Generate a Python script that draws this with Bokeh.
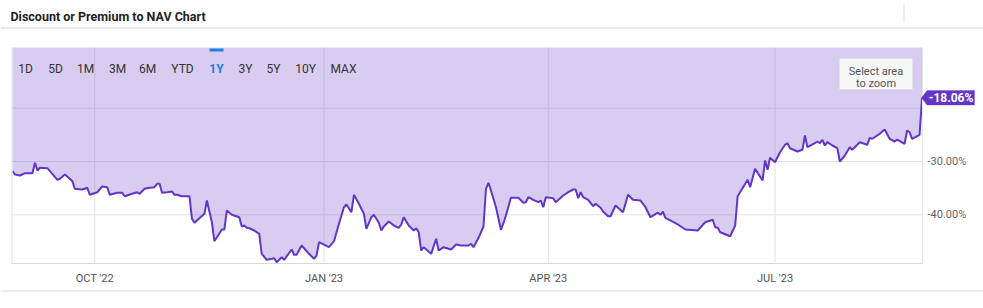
import pandas as pd
from bokeh.plotting import figure
from bokeh.models import (Label, BoxAnnotation, PolyAnnotation, FixedTicker,
                          DatetimeAxis, LinearAxis, CustomJSTickFormatter, Range1d,
                          ColumnDataSource)
from bokeh.embed import file_html
from bokeh.resources import INLINE

# ---------------- data ----------------
dates = [
    "2022-08-29", "2022-08-30", "2022-09-01", "2022-09-03", "2022-09-06", "2022-09-07", "2022-09-08", "2022-09-09", "2022-09-12", "2022-09-16",
    "2022-09-17", "2022-09-19", "2022-09-21", "2022-09-22", "2022-09-23", "2022-09-26", "2022-09-28", "2022-09-29", "2022-10-02", "2022-10-04",
    "2022-10-06", "2022-10-07", "2022-10-10", "2022-10-12", "2022-10-13", "2022-10-16", "2022-10-18", "2022-10-19", "2022-10-21", "2022-10-23",
    "2022-10-25", "2022-10-26", "2022-10-27", "2022-10-28", "2022-10-30", "2022-11-01", "2022-11-02", "2022-11-03", "2022-11-05", "2022-11-08",
    "2022-11-09", "2022-11-10", "2022-11-14", "2022-11-15", "2022-11-17", "2022-11-18", "2022-11-21", "2022-11-22", "2022-11-23", "2022-11-25",
    "2022-11-28", "2022-11-29", "2022-11-30", "2022-12-01", "2022-12-02", "2022-12-04", "2022-12-06", "2022-12-07", "2022-12-09", "2022-12-11",
    "2022-12-12", "2022-12-13", "2022-12-15", "2022-12-16", "2022-12-19", "2022-12-20", "2022-12-21", "2022-12-23", "2022-12-26", "2022-12-28",
    "2022-12-29", "2022-12-30", "2023-01-03", "2023-01-05", "2023-01-07", "2023-01-09", "2023-01-10", "2023-01-12", "2023-01-13", "2023-01-15",
    "2023-01-17", "2023-01-18", "2023-01-20", "2023-01-21", "2023-01-22", "2023-01-23", "2023-01-24", "2023-01-25", "2023-01-27", "2023-01-29",
    "2023-01-31", "2023-02-01", "2023-02-02", "2023-02-04", "2023-02-06", "2023-02-07", "2023-02-08", "2023-02-09", "2023-02-10", "2023-02-13",
    "2023-02-15", "2023-02-16", "2023-02-18", "2023-02-21", "2023-02-23", "2023-02-25", "2023-02-28", "2023-03-01", "2023-03-02", "2023-03-04",
    "2023-03-06", "2023-03-07", "2023-03-08", "2023-03-09", "2023-03-11", "2023-03-13", "2023-03-14", "2023-03-15", "2023-03-17", "2023-03-20",
    "2023-03-22", "2023-03-23", "2023-03-24", "2023-03-26", "2023-03-28", "2023-03-29", "2023-03-30", "2023-03-31", "2023-04-03", "2023-04-04",
    "2023-04-07", "2023-04-09", "2023-04-11", "2023-04-12", "2023-04-13", "2023-04-14", "2023-04-15", "2023-04-17", "2023-04-19", "2023-04-20",
    "2023-04-22", "2023-04-23", "2023-04-25", "2023-04-26", "2023-04-28", "2023-05-01", "2023-05-03", "2023-05-05", "2023-05-08", "2023-05-10",
    "2023-05-12", "2023-05-15", "2023-05-16", "2023-05-17", "2023-05-18", "2023-05-23", "2023-05-26", "2023-05-31", "2023-06-02", "2023-06-03",
    "2023-06-06", "2023-06-07", "2023-06-08", "2023-06-09", "2023-06-13", "2023-06-15", "2023-06-16", "2023-06-20", "2023-06-21", "2023-06-23",
    "2023-06-26", "2023-06-27", "2023-06-28", "2023-06-29", "2023-07-01", "2023-07-03", "2023-07-05", "2023-07-06", "2023-07-07", "2023-07-10",
    "2023-07-12", "2023-07-13", "2023-07-14", "2023-07-17", "2023-07-18", "2023-07-19", "2023-07-20", "2023-07-21", "2023-07-22", "2023-07-24",
    "2023-07-26", "2023-07-27", "2023-07-29", "2023-07-31", "2023-08-01", "2023-08-03", "2023-08-04", "2023-08-07", "2023-08-08", "2023-08-09",
    "2023-08-12", "2023-08-14", "2023-08-16", "2023-08-18", "2023-08-19", "2023-08-22", "2023-08-23", "2023-08-24", "2023-08-25", "2023-08-28",
    "2023-08-29",
]

discount_pct = [
    -31.82, -32.44, -32.63, -32.19, -32.19, -30.24, -31.69, -31.18, -31.26, -33.43,
    -33.24, -32.44, -33.24, -33.69, -35.12, -35.25, -34.93, -36.24, -35.76, -34.69,
    -34.82, -36.24, -35.87, -35.87, -36.51, -36.06, -35.76, -36.06, -35.12, -34.93,
    -34.82, -34.18, -34.18, -35.87, -35.76, -35.62, -36.24, -36.24, -36.51, -36.51,
    -40.74, -41.49, -39.81, -37.31, -41.38, -44.94, -42.75, -42.75, -39.19, -39.99,
    -40.44, -42.19, -42.00, -42.43, -42.51, -42.94, -43.56, -47.31, -48.43, -48.24,
    -48.13, -48.88, -47.94, -48.43, -46.50, -47.49, -47.49, -45.75, -47.31, -48.24,
    -47.63, -45.13, -46.07, -44.94, -41.68, -38.57, -38.06, -39.51, -36.24, -37.93,
    -39.81, -42.62, -40.44, -39.99, -40.74, -41.49, -42.94, -42.19, -41.25, -42.00,
    -42.43, -41.81, -40.44, -42.00, -42.94, -42.51, -43.26, -46.69, -46.07, -47.31,
    -44.49, -46.69, -46.07, -46.50, -45.56, -45.75, -45.75, -45.43, -46.07, -44.31,
    -42.19, -35.12, -33.99, -35.44, -38.57, -42.81, -41.57, -40.13, -36.81, -36.81,
    -37.74, -37.63, -36.69, -37.18, -37.63, -37.31, -38.57, -36.69, -36.88, -37.63,
    -36.38, -35.76, -35.25, -35.25, -36.88, -35.76, -36.69, -37.18, -38.38, -37.93,
    -38.68, -39.38, -40.26, -40.26, -38.25, -39.51, -36.24, -37.18, -37.31, -38.57,
    -40.44, -39.60, -39.99, -39.38, -40.56, -41.81, -42.75, -42.94, -41.87, -41.38,
    -40.93, -42.32, -42.43, -43.26, -44.01, -42.00, -36.51, -33.43, -34.82, -31.37,
    -33.56, -29.81, -31.56, -29.31, -30.13, -28.26, -26.87, -26.57, -27.51, -28.13,
    -27.81, -25.13, -27.32, -26.57, -26.25, -26.57, -25.93, -27.00, -26.38, -27.00,
    -27.51, -30.00, -28.88, -27.32, -27.81, -26.87, -26.38, -26.87, -25.56, -25.74,
    -24.81, -24.00, -25.74, -26.25, -25.88, -26.68, -24.19, -24.51, -25.74, -25.00,
    -18.06,
]

x_tick_dates = ["2022-10-01", "2023-01-01", "2023-04-01", "2023-07-01"]
y_ticks = [-40, -30, -20]
range_buttons = ["1D", "5D", "1M", "3M", "6M", "YTD", "1Y", "3Y", "5Y", "10Y", "MAX"]
selected_button = "1Y"
title_text = "Discount or Premium to NAV Chart"

# ---------------- layout constants ----------------
W, H = 983, 308
PL, PR, PT, PB = 11, 922, 47, 263        # plot-area edges in canvas pixels
FONT = "Roboto"
LINE = "#6236c8"
BLUE = "#1f80e0"
GRID = "#e3e3e3"

# the plot area spans 2022-08-28 14:00 .. +365.6 days and -49.125% .. -8.625%
X0 = pd.Timestamp("2022-08-28 14:00")
DAYS = 365.6
Y_LO, Y_HI = -49.125, -8.625
px_per_day = (PR - PL) / DAYS
px_per_pct = (PB - PT) / (Y_HI - Y_LO)

def xd(px):
    return X0 + pd.Timedelta(days=(px - PL) / px_per_day)

def yd(py):
    return Y_HI - (py - PT) / px_per_pct

def ms(ts):
    return ts.value / 1e6

def sy(py):  # canvas y -> screen units measured up from the bottom
    return H - py

x = pd.to_datetime(dates)
src = ColumnDataSource(dict(x=x, y=discount_pct))

p = figure(width=W, height=H, x_range=Range1d(xd(0), xd(W)), y_range=Range1d(yd(H), yd(0)),
           x_axis_type="datetime", x_axis_location=None, y_axis_location=None,
           output_backend="svg", toolbar_location=None, min_border=0)
p.title.visible = False
p.outline_line_color = None
p.background_fill_color = "white"
p.border_fill_color = "white"
p.xgrid.visible = False
p.ygrid.visible = False

tick_dt = pd.to_datetime(x_tick_dates)
tick_ms = [ms(t) for t in tick_dt]
plot_x0, plot_x1 = xd(PL), xd(PR)

# grid lines, limited to the plot area (drawn first, under the shading)
n_x, n_y = len(tick_dt), len(y_ticks)
p.segment(x0=tick_dt, y0=[Y_LO] * n_x, x1=tick_dt, y1=[Y_HI] * n_x,
          line_color=GRID, line_width=1)
p.segment(x0=[plot_x0] * n_y, y0=y_ticks, x1=[plot_x1] * n_y, y1=y_ticks,
          line_color=GRID, line_width=1)

# x axis along the bottom of the plot area
xaxis = DatetimeAxis(fixed_location=Y_LO, bounds=(ms(plot_x0), ms(plot_x1)),
                     ticker=FixedTicker(ticks=tick_ms),
                     formatter=CustomJSTickFormatter(code="""
const d = new Date(tick);
const m = ["JAN","FEB","MAR","APR","MAY","JUN","JUL","AUG","SEP","OCT","NOV","DEC"][d.getUTCMonth()];
return m + " '" + String(d.getUTCFullYear()).slice(2);
"""))
xaxis.axis_line_color = "#d8d8d8"
xaxis.major_tick_line_color = None
xaxis.minor_tick_line_color = None
xaxis.major_tick_out = 0
xaxis.major_tick_in = 0
xaxis.minor_tick_out = 0
xaxis.major_label_text_font = FONT
xaxis.major_label_text_font_size = "11px"
xaxis.major_label_text_color = "#555555"
xaxis.major_label_standoff = 8
p.add_layout(xaxis, "below")

# y axis on the right edge of the plot area
yaxis = LinearAxis(fixed_location=ms(plot_x1), bounds=(Y_LO, Y_HI),
                   ticker=FixedTicker(ticks=y_ticks),
                   formatter=CustomJSTickFormatter(args=dict(hidden=-20), code="""
return tick == hidden ? "" : tick.toFixed(2) + "%";
"""))
yaxis.axis_line_color = GRID
yaxis.major_tick_line_color = None
yaxis.minor_tick_line_color = None
yaxis.major_tick_out = 0
yaxis.major_tick_in = 0
yaxis.minor_tick_out = 0
yaxis.major_label_text_font = FONT
yaxis.major_label_text_font_size = "11px"
yaxis.major_label_text_color = "#666666"
yaxis.major_label_standoff = 5
p.add_layout(yaxis, "right")

# left border of the plot area
p.add_layout(BoxAnnotation(left=PL, right=PL + 1, top=sy(PT), bottom=sy(PB),
                           left_units="screen", right_units="screen",
                           top_units="screen", bottom_units="screen",
                           fill_color=GRID, fill_alpha=1, line_color=None))

# series: shaded band above the line, then the line
p.varea(x="x", y1="y", y2=Y_HI, source=src, fill_color=LINE, fill_alpha=0.25)
p.line(x="x", y="y", source=src, line_color=LINE, line_width=2)

# header: title and rules
p.add_layout(Label(x=10, y=sy(16), x_units="screen", y_units="screen",
                   text=title_text, text_font=FONT, text_font_size="12.5px",
                   text_font_style="bold", text_color="#222222",
                   text_align="left", text_baseline="alphabetic"))

def hbar(x1, x2, y1, y2, color):
    p.add_layout(BoxAnnotation(left=x1, right=x2, top=sy(y1), bottom=sy(y2),
                               left_units="screen", right_units="screen",
                               top_units="screen", bottom_units="screen",
                               fill_color=color, fill_alpha=1, line_color=None))

hbar(0, W, 27, 28, "#d4d4d4")
hbar(903, 904, 3, 22, "#e0e0e0")
hbar(0, W, 290, 291, "#dcdcdc")

# range selector buttons
btn_centers = [25, 55, 85, 117, 147, 182, 216, 245, 273, 305, 343]
for name, cx in zip(range_buttons, btn_centers):
    sel = name == selected_button
    p.add_layout(Label(x=cx, y=sy(68), x_units="screen", y_units="screen",
                       text=name, text_font=FONT, text_font_size="12px",
                       text_font_style="bold" if sel else "normal",
                       text_color=BLUE if sel else "#333333",
                       text_align="center", text_baseline="alphabetic"))
    if sel:
        hbar(cx - 7, cx + 7, 48, 51, BLUE)

# "Select area to zoom" hint box
p.add_layout(BoxAnnotation(left=839, right=912, top=sy(58), bottom=sy(89),
                           left_units="screen", right_units="screen",
                           top_units="screen", bottom_units="screen",
                           fill_color="#f6f7f7", fill_alpha=1,
                           line_color="#dedede", line_width=1))
for txt, base in (("Select area", 71), ("to zoom", 83)):
    p.add_layout(Label(x=875.5, y=sy(base), x_units="screen", y_units="screen",
                       text=txt, text_font=FONT, text_font_size="11px",
                       text_color="#555555", text_align="center",
                       text_baseline="alphabetic"))

# last-value flag on the right axis
last = discount_pct[-1]
half = 7.3 / px_per_pct
p.add_layout(PolyAnnotation(xs=[921, 926.5, 974, 974, 926.5],
                            ys=[last, last + half, last + half, last - half, last - half],
                            xs_units="screen", ys_units="data",
                            fill_color=LINE, fill_alpha=1, line_color=LINE))
p.add_layout(Label(x=950.5, y=last, x_units="screen", y_units="data",
                   text=f"{last:.2f}%", text_font=FONT, text_font_size="12px",
                   text_font_style="bold", text_color="white",
                   text_align="center", text_baseline="middle"))

open("out.html", "w").write(file_html(p, INLINE))
